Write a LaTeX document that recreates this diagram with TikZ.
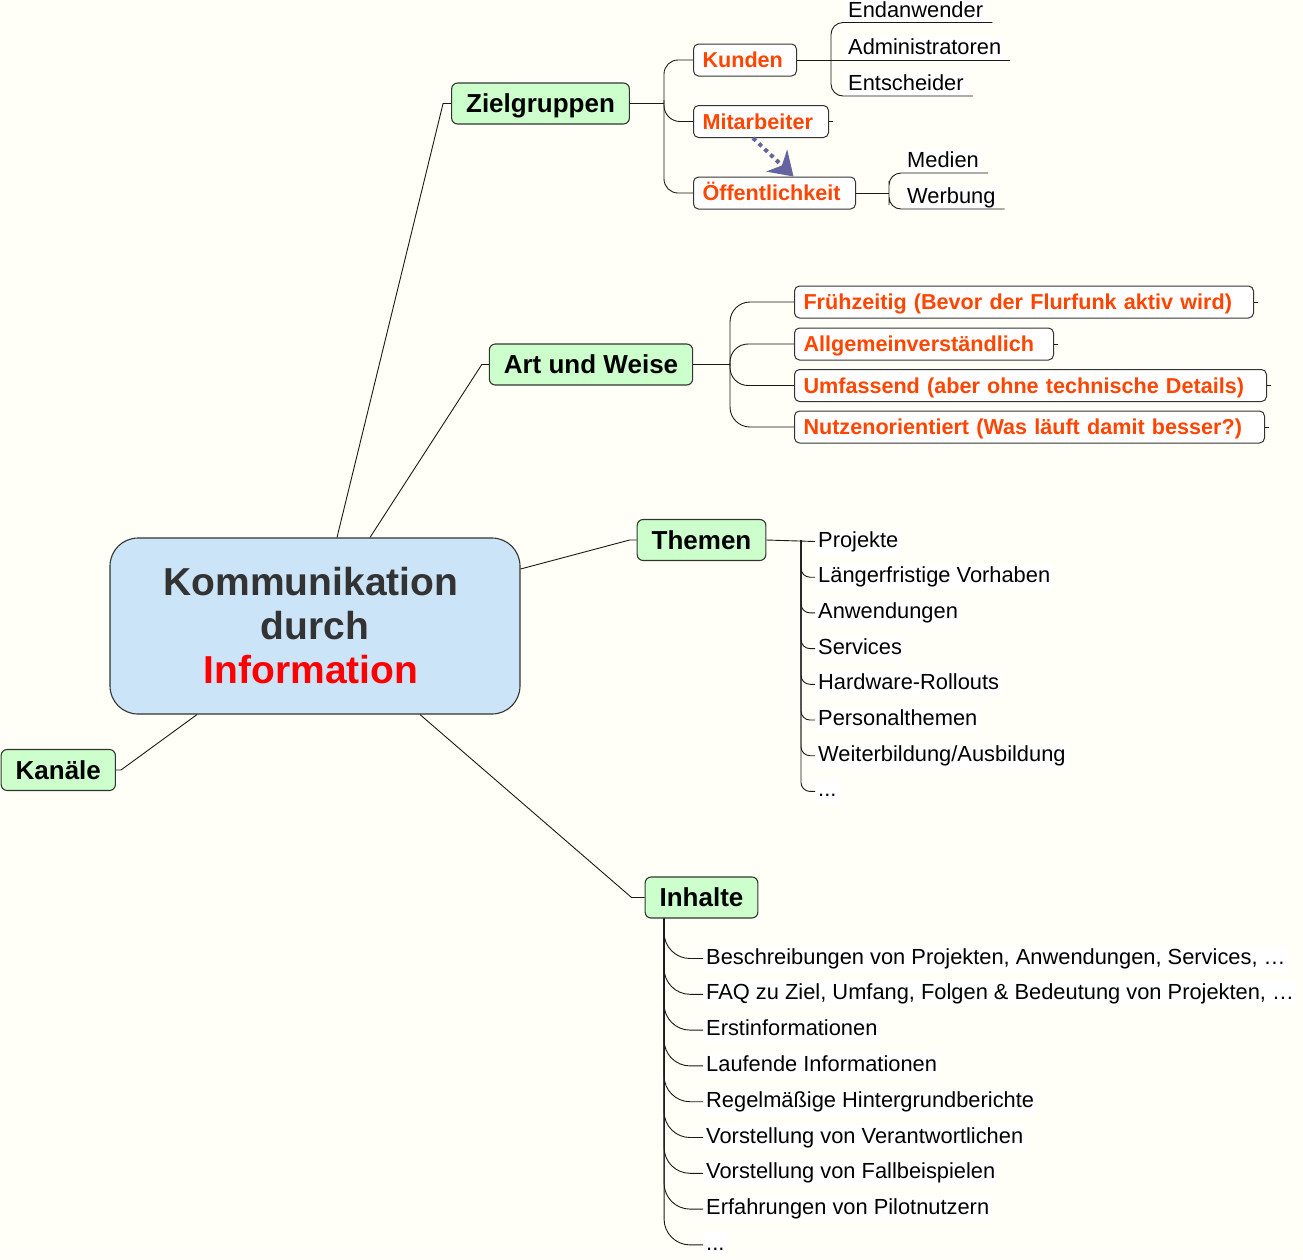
\documentclass[tikz,border=0pt]{standalone}
\usepackage{fontspec}
\setmainfont{Liberation Sans}
\usetikzlibrary{arrows.meta}
\definecolor{bgc}{HTML}{FFFFF7}
\definecolor{greenc}{HTML}{CCFFCC}
\definecolor{bluec}{HTML}{CCE4F7}
\definecolor{orangec}{HTML}{FF4500}
\definecolor{redc}{HTML}{FF0000}
\definecolor{bordc}{HTML}{333333}
\definecolor{darkc}{HTML}{333333}
\definecolor{arrowc}{HTML}{6464A0}
\begin{document}
\begin{tikzpicture}[x=1pt,y=-1pt,
 conn/.style={draw=black!90, line width=0.9pt},
 cbox/.style={draw=bordc, fill=bluec, rounded corners=28pt, line width=1.1pt,
   minimum width=410pt, minimum height=176pt, align=center,
   font=\fontsize{39}{44}\selectfont\bfseries, text=darkc},
 gbox/.style={draw=bordc, fill=greenc, rounded corners=6pt, line width=1.1pt,
   font=\fontsize{26}{30}\selectfont\bfseries, text height=19pt, text depth=0.5pt,
   minimum height=41pt, inner xsep=14.5pt, inner ysep=0pt},
 obox/.style={draw=bordc, fill=white, rounded corners=5pt, line width=1pt,
   font=\fontsize{21.6}{26}\selectfont\bfseries, text=orangec, text height=16pt,
   text depth=1pt, minimum height=32pt, inner xsep=9pt, inner ysep=0pt,
   anchor=west, text width=#1, align=left},
 leaf/.style={font=\fontsize{21.85}{26}\selectfont, fill=white, inner xsep=3pt,
   inner ysep=1.5pt, text height=16pt, text depth=5pt, anchor=base west},
]
\fill[bgc] (0,0) rectangle (1303,1259);
\useasboundingbox (0,0) rectangle (1303,1259);

% central node
\node[cbox] (c) at (315,626) {Kommunikation\hspace*{8pt}\\durch\hspace*{8pt}\\\textcolor{redc}{Information}\hspace*{8pt}};

% main branches
\node[gbox] (zg) at (540.5,103.5) {Zielgruppen};
\node[gbox] (aw) at (591,364.5) {Art und Weise};
\node[gbox] (th) at (701.5,540) {Themen};
\node[gbox] (in) at (701.5,897.5) {Inhalte};
\node[gbox, anchor=west] (ka) at (0.6,770) {Kanäle};

% orange boxes
\node[obox=85pt]  (ku) at (693,60) {Kunden};
\node[obox=117pt] (mi) at (693,121.5) {Mitarbeiter};
\node[obox=144pt] (oe) at (693,193) {Öffentlichkeit};
\node[obox=441pt] (fr) at (794,302) {Frühzeitig (Bevor der Flurfunk aktiv wird)};
\node[obox=241pt] (al) at (794,344) {Allgemeinverständlich};
\node[obox=454pt] (um) at (794,385.5) {Umfassend (aber ohne technische Details)};
\node[obox=452pt] (nu) at (794,427) {Nutzenorientiert (Was läuft damit besser?)};

% leaves of Kunden / Öffentlichkeit
\node[leaf] (ea) at (845,17) {Endanwender};
\node[leaf] (ad) at (845,54.5) {Administratoren};
\node[leaf] (es) at (845,90.5) {Entscheider};
\node[leaf] (me) at (904,167.5) {Medien};
\node[leaf] (we) at (904,203.5) {Werbung};

% Themen leaves
\node[leaf] (t1) at (815,547) {Projekte};
\node[leaf] (t2) at (815,582.7) {Längerfristige Vorhaben};
\node[leaf] (t3) at (815,618.4) {Anwendungen};
\node[leaf] (t4) at (815,654.1) {Services};
\node[leaf] (t5) at (815,689.8) {Hardware-Rollouts};
\node[leaf] (t6) at (815,725.5) {Personalthemen};
\node[leaf] (t7) at (815,761.2) {Weiterbildung/Ausbildung};
\node[leaf] (t8) at (815,796.9) {...};

% Inhalte leaves
\node[leaf] (i1) at (703,964) {Beschreibungen von Projekten, Anwendungen, Services, …};
\node[leaf] (i2) at (703,999.8) {FAQ zu Ziel, Umfang, Folgen \& Bedeutung von Projekten, …};
\node[leaf] (i3) at (703,1035.6) {Erstinformationen};
\node[leaf] (i4) at (703,1071.4) {Laufende Informationen};
\node[leaf] (i5) at (703,1107.2) {Regelmäßige Hintergrundberichte};
\node[leaf] (i6) at (703,1143) {Vorstellung von Verantwortlichen};
\node[leaf] (i7) at (703,1178.8) {Vorstellung von Fallbeispielen};
\node[leaf] (i8) at (703,1214.6) {Erfahrungen von Pilotnutzern};
\node[leaf] (i9) at (703,1250.4) {...};

% connectors from centre
\draw[conn] ([xshift=22pt]c.north) -- ([xshift=-8pt]zg.west) -- (zg.west);
\draw[conn] ([xshift=55pt]c.north) -- ([xshift=-7pt]aw.west) -- (aw.west);
\draw[conn] ([yshift=57pt]c.east) -- ([xshift=-7pt]th.west) -- (th.west);
\draw[conn] ([xshift=105pt]c.south) -- ([xshift=-13pt]in.west) -- (in.west);
\draw[conn] ([xshift=-118pt]c.south) -- ([xshift=5pt]ka.east) -- (ka.east);

% Zielgruppen subtree
\coordinate (zj) at (664,103.5);
\draw[conn] (zg.east) -- (zj);
\draw[conn, rounded corners=14pt] (ku.west) -| (zj) |- (oe.west);
\draw[conn, rounded corners=16pt] (664,100) |- (mi.west);
\draw[conn] (mi.east) -- ++(4,0);

\coordinate (kj) at (831,60);
\draw[conn] (ku.east) -- ([xshift=6pt,yshift=-5.5pt]ad.base east);
\draw[conn, rounded corners=12pt] ([xshift=6pt,yshift=-5.5pt]ea.base east) -| (kj) |- ([xshift=6pt,yshift=-5.5pt]es.base east);

\coordinate (oj) at (889,193);
\draw[conn] (oe.east) -- (oj);
\draw[conn, rounded corners=12pt] ([xshift=6pt,yshift=-5.5pt]me.base east) -| (oj) |- ([xshift=6pt,yshift=-5.5pt]we.base east);

\draw[arrowc, line width=4pt, dash pattern=on 4pt off 4pt,
  -{Stealth[length=23pt,width=30pt,inset=7pt]}]
  ([xshift=-8pt]mi.south) -- ([xshift=19pt]oe.north);

% Art und Weise subtree
\coordinate (aj) at (730,364.5);
\draw[conn] (aw.east) -- (aj);
\draw[conn, rounded corners=20pt] (fr.west) -| (aj) |- (nu.west);
\draw[conn, rounded corners=18pt] (730,366) |- (al.west);
\draw[conn, rounded corners=18pt] (730,363) |- (um.west);
\foreach \n in {fr,al,um,nu} \draw[conn] (\n.east) -- ++(4,0);

% Themen subtree
\coordinate (tj) at (801,540);
\draw[conn] (th.east) -- (t1.west);
\foreach \n in {t2,t3,t4,t5,t6,t7,t8} \draw[conn, rounded corners=9pt] (tj) |- (\n.west);

% Inhalte subtree
\coordinate (ib) at ([xshift=19.5pt]in.south west);
\foreach \n in {i1,i2,i3,i4,i5,i6,i7,i8,i9} \draw[conn, rounded corners=26pt] (ib) |- (\n.west);
\end{tikzpicture}
\end{document}
